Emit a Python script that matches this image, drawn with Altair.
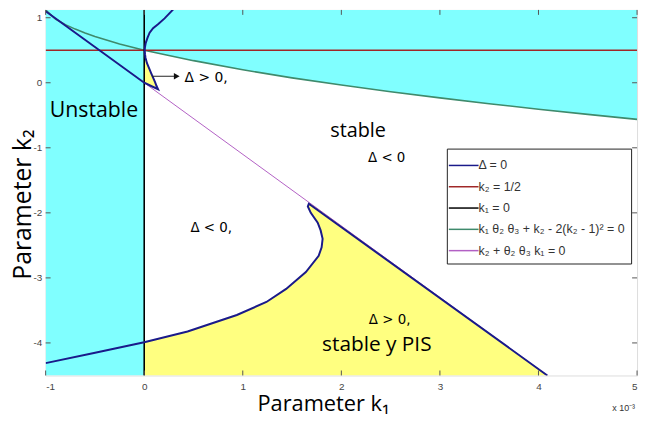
import altair as alt
import pandas as pd

# k1 is given in units of 1e-3 (axis shows "x 10^-3")
x_ticks = [-1, 0, 1, 2, 3, 4, 5]
y_ticks = [-4, -3, -2, -1, 0, 1]

series_names = ["Δ = 0", "k₂ = 1/2", "k₁ = 0",
                "k₁ θ₂ θ₃ + k₂ - 2(k₂ - 1)² = 0", "k₂ + θ₂ θ₃ k₁ = 0"]
series_colors = ["#1a1a8a", "#a02828", "#000000", "#3f8a6c", "#b260c4"]

# green curve  k1θ2θ3 + k2 - 2(k2-1)^2 = 0
green_k1 = [-1, -0.9, -0.8, -0.7, -0.6, -0.5, -0.25, 0, 0.5, 1, 1.5, 2, 2.5, 3, 3.5, 4, 4.5, 5]
green_k2 = [1.12, 0.98, 0.894, 0.825, 0.765, 0.71, 0.597, 0.5, 0.34, 0.2, 0.075, -0.035, -0.137,
            -0.232, -0.322, -0.406, -0.486, -0.563]

# purple line  k2 + θ2θ3 k1 = 0
purple_k1 = [-1, 4.09]
purple_k2 = [1.1, -4.5]

# red line k2 = 1/2, black line k1 = 0
red_k1 = [-1, 5]
red_k2 = [0.5, 0.5]
black_k1 = [0, 0]
black_k2 = [-4.5, 1.2]

# Δ = 0, upper branch (incl. part along purple line for k1<0)
dup_k1 = [0.36, 0.333, 0.27, 0.207, 0.14, 0.09, 0.055, 0.033, 0.015, 0.007, 0.005, 0.008, 0.013,
          0.028, 0.047, 0.07, 0.09, 0.11, 0.125, 0.14, 0.07, 0, -1]
dup_k2 = [1.25, 1.19, 1.09, 0.99, 0.9, 0.84, 0.77, 0.69, 0.61, 0.54, 0.5, 0.44, 0.385,
          0.3, 0.233, 0.15, 0.08, 0.01, -0.05, -0.1, -0.05, 0, 1.1]
# Δ = 0, lower branch
dlo_k1 = [-1, -0.51, 0, 0.44, 0.94, 1.24, 1.44, 1.64, 1.77, 1.80, 1.81, 1.79, 1.76, 1.69, 1.66, 1.67, 4.09]
dlo_k2 = [-4.31, -4.155, -3.99, -3.825, -3.57, -3.37, -3.17, -2.91, -2.66, -2.53, -2.40, -2.27, -2.15,
          -2.0, -1.90, -1.86, -4.5]

# yellow region (Δ > 0, stable y PIS): horizontal band per k2
ybig_k2 = [-4.5, -3.99, -3.825, -3.57, -3.37, -3.17, -2.91, -2.66, -2.53, -2.40, -2.27, -2.15, -2.0, -1.90, -1.86]
ybig_left = [0, 0, 0.44, 0.94, 1.24, 1.44, 1.64, 1.77, 1.80, 1.81, 1.79, 1.76, 1.69, 1.66, 1.67]
ybig_right = [4.09, 3.63, 3.48, 3.245, 3.064, 2.88, 2.645, 2.418, 2.3, 2.18, 2.064, 1.955, 1.82, 1.727, 1.69]
# small yellow region
ysm_k2 = [-0.10, -0.05, 0, 0.08, 0.15, 0.233, 0.3, 0.385, 0.5]
ysm_left = [0.14, 0.07, 0, 0, 0, 0, 0, 0, 0]
ysm_right = [0.14, 0.125, 0.11, 0.09, 0.07, 0.047, 0.028, 0.013, 0.005]

# unstable region k1 < 0
cyan_left_k1 = [-1, 0]
cyan_k2 = [-4.5, 1.2]
cyan_top = 1.2

# annotations
arrow_k1 = [0.08, 0.33]
arrow_k2 = [0.1, 0.1]
big_labels = ["Unstable", "stable", "stable y PIS"]
big_k1 = [-0.51, 2.17, 2.36]
big_k2 = [-0.43, -0.745, -4.03]
big_sizes = [21.5, 20, 21]
small_labels = ["Δ < 0", "Δ < 0,", "Δ > 0,"]
small_k1 = [2.46, 0.68, 2.49]
small_k2 = [-1.16, -2.24, -3.65]
arrow_label = "Δ > 0,"
arrow_label_k1 = 0.41
arrow_label_k2 = 0.08

W, H = 597, 369
xscale = alt.Scale(domain=[-1, 5], nice=False, zero=False)
yscale = alt.Scale(domain=[-4.5, 1.12], nice=False, zero=False)
xaxis = alt.Axis(values=x_ticks, title="Parameter k₁", titleFont="Open Sans", titleFontSize=22,
                 titleFontWeight="normal", titleColor="black", labelFont="Liberation Sans",
                 labelFontSize=10, labelColor="#444", ticks=False, domain=False, grid=False,
                 labelPadding=6, titleX=280, titleY=18, titleBaseline="top", titleAlign="center",
                 labelExpr="datum.value")
yaxis = alt.Axis(values=y_ticks, title="Parameter k₂", titleFont="Open Sans", titleFontSize=25,
                 titleFontWeight="normal", titleColor="black", labelFont="Liberation Sans",
                 labelFontSize=10, labelColor="#444", ticks=False, domain=False, grid=False,
                 labelPadding=4, titleX=-35, titleY=196, titleAngle=270, titleBaseline="top",
                 titleAlign="center", labelExpr="datum.value")


def X(f="x"):
    return alt.X(f"{f}:Q", scale=xscale, axis=xaxis)


def Y(f="y"):
    return alt.Y(f"{f}:Q", scale=yscale, axis=yaxis)


color = alt.Color("series:N", scale=alt.Scale(domain=series_names, range=series_colors),
                  sort=series_names,
                  legend=alt.Legend(orient="none", legendX=405, legendY=140, title=None,
                                    symbolType="M-1.5,0H1.5", symbolSize=400, symbolStrokeWidth=1.5,
                                    labelFont="Liberation Sans", labelFontSize=12.5, labelColor="#333",
                                    strokeColor="#222", fillColor="white", padding=6,
                                    rowPadding=3.5, labelOffset=4))

# fills
cyan_rect = alt.Chart(pd.DataFrame({"x": [cyan_left_k1[0]], "x2": [cyan_left_k1[1]],
                                    "y": [cyan_k2[0]], "y2": [cyan_k2[1]]})).mark_rect(
    color="#80ffff", clip=True).encode(x=X(), x2="x2:Q", y=Y(), y2="y2:Q")

g_df = pd.DataFrame({"x": green_k1, "y": green_k2, "top": [cyan_top] * len(green_k1)})
cyan_area = alt.Chart(g_df).transform_filter("datum.x >= 0").mark_area(
    color="#80ffff", clip=True, opacity=1).encode(x=X(), y=Y(), y2="top:Q")

yb_df = pd.DataFrame({"y": ybig_k2, "x": ybig_left, "x2": ybig_right})
yellow_big = alt.Chart(yb_df).mark_area(orient="horizontal", color="#ffff80", clip=True, opacity=1).encode(
    y=Y(), x=X(), x2="x2:Q")
ys_df = pd.DataFrame({"y": ysm_k2, "x": ysm_left, "x2": ysm_right})
yellow_small = alt.Chart(ys_df).mark_area(orient="horizontal", color="#ffff80", clip=True, opacity=1).encode(
    y=Y(), x=X(), x2="x2:Q")


def line_df(name, xs, ys):
    return pd.DataFrame({"series": [name] * len(xs), "x": xs, "y": ys, "o": list(range(len(xs)))})


def line_layer(df, width, seg=None):
    enc = dict(x=X(), y=Y(), color=color, order="o:Q")
    if seg:
        enc["detail"] = seg
    return alt.Chart(df).mark_line(strokeWidth=width, clip=True).encode(**enc)


purple = line_layer(line_df(series_names[4], purple_k1, purple_k2), 1)
green = line_layer(line_df(series_names[3], green_k1, green_k2), 1.6)
red = line_layer(line_df(series_names[1], red_k1, red_k2), 1.5)
black = line_layer(line_df(series_names[2], black_k1, black_k2), 1.6)
d1 = line_df(series_names[0], dup_k1, dup_k2)
d1["seg"] = "a"
d2 = line_df(series_names[0], dlo_k1, dlo_k2)
d2["seg"] = "b"
blue = line_layer(pd.concat([d1, d2]), 2, seg="seg:N")

arrow_df = pd.DataFrame({"x": [arrow_k1[0]], "x2": [arrow_k1[1]], "y": [arrow_k2[0]]})
arrow_line = alt.Chart(arrow_df).mark_rule(color="#222", strokeWidth=1).encode(x=X(), x2="x2:Q", y=Y())
arrow_head = alt.Chart(pd.DataFrame({"x": [arrow_k1[1]], "y": [arrow_k2[1]]})).mark_point(
    shape="triangle-right", filled=True, size=45, color="#111", opacity=1).encode(x=X(), y=Y())
arrow_text = alt.Chart(pd.DataFrame({"x": [arrow_label_k1], "y": [arrow_label_k2], "t": [arrow_label]})).mark_text(
    align="left", baseline="middle", font="DejaVu Sans", fontSize=14, color="black").encode(
    x=X(), y=Y(), text="t:N")

big_df = pd.DataFrame({"x": big_k1, "y": big_k2, "t": big_labels, "s": big_sizes})
big_text = alt.Chart(big_df).mark_text(font="Open Sans", color="black", baseline="middle").encode(
    x=X(), y=Y(), text="t:N", size=alt.Size("s:Q", scale=None, legend=None))
small_df = pd.DataFrame({"x": small_k1, "y": small_k2, "t": small_labels})
small_text = alt.Chart(small_df).mark_text(font="DejaVu Sans", fontSize=13.5, color="black",
                                           baseline="middle").encode(x=X(), y=Y(), text="t:N")

xt = pd.DataFrame({"x": x_ticks})
yt = pd.DataFrame({"y": y_ticks})
tick_col = "#555"
xt_bot = alt.Chart(xt).mark_rule(color=tick_col).encode(x=X(), y=alt.value(H), y2=alt.value(H - 5))
xt_top = alt.Chart(xt).mark_rule(color=tick_col).encode(x=X(), y=alt.value(0), y2=alt.value(5))
yt_left = alt.Chart(yt).mark_rule(color=tick_col).encode(y=Y(), x=alt.value(0), x2=alt.value(5))
yt_right = alt.Chart(yt).mark_rule(color=tick_col).encode(y=Y(), x=alt.value(W), x2=alt.value(W - 5))

exp_text = alt.Chart(pd.DataFrame({"t": ["x 10⁻³"]})).mark_text(
    font="Liberation Sans", fontSize=9, color="#333", align="left", baseline="middle").encode(
    x=alt.value(572), y=alt.value(402), text="t:N")

chart = alt.layer(
    cyan_rect, cyan_area, yellow_big, yellow_small,
    purple, green, red, black, blue,
    arrow_line, arrow_head, arrow_text, big_text, small_text,
    xt_bot, xt_top, yt_left, yt_right, exp_text,
).properties(
    width=W, height=H,
    autosize=alt.AutoSizeParams(type="none"),
    padding={"left": 38, "top": 0, "right": 5, "bottom": 40},
).configure_view(stroke="#666", strokeWidth=1).configure(background="white")

chart.save("out.html", embed_options={"renderer": "svg", "actions": False})
